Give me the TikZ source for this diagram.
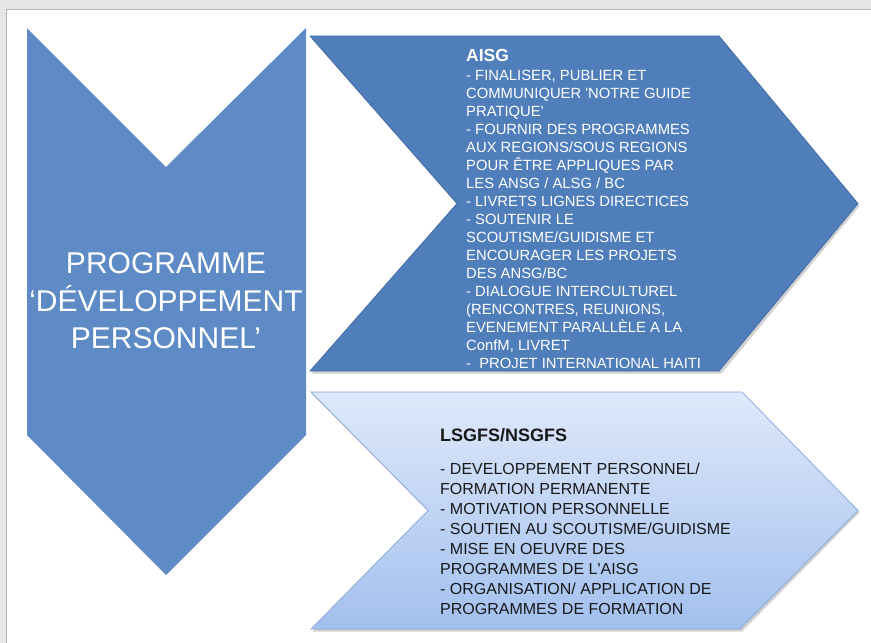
\documentclass[tikz,border=0pt]{standalone}
\usepackage{fontspec}
\newfontfamily\lib{Liberation Sans}
\definecolor{bggray}{HTML}{E6E6E6}
\definecolor{framegray}{HTML}{B4B4B4}
\definecolor{progblue}{HTML}{5E8BC6}
\definecolor{aisgblue}{HTML}{4F7EBB}
\definecolor{aisgedge}{HTML}{3E69A3}
\definecolor{lsgtop}{HTML}{DFE9FB}
\definecolor{lsgbot}{HTML}{A2C0EE}
\definecolor{lsgedge}{HTML}{86A6D8}
\tikzset{
  txt/.style={inner sep=0pt, font=\lib},
  bigtxt/.style={txt, text=white, align=center, font=\lib\fontsize{30}{37.5}\selectfont},
  aisghead/.style={txt, text=white, font=\lib\bfseries\fontsize{17.5}{21}\selectfont},
  aisgbody/.style={txt, text=white, align=left, font=\lib\fontsize{14.8}{18}\selectfont},
  lsghead/.style={txt, text=black!90, font=\lib\bfseries\fontsize{18}{21}\selectfont},
  lsgbody/.style={txt, text=black!90, align=left, font=\lib\fontsize{16}{20}\selectfont},
  shadowfill/.style={fill=black, opacity=0.18}
}
\begin{document}
\begin{tikzpicture}[x=1pt,y=-1pt]
\useasboundingbox (0,0) rectangle (871,643);
% page background and frame
\fill[bggray] (0,0) rectangle (871,643);
\fill[white] (6,9) rectangle (871,643);
\draw[framegray, line width=0.8pt] (6,643) -- (6,9) -- (871,9);

% left down-pointing chevron
\fill[progblue] (27,28) -- (166,167) -- (306,28) -- (306,435) -- (166,575) -- (27,435) -- cycle;

% AISG chevron
\fill[shadowfill] (311.5,38.5) -- (721.5,38.5) -- (859.5,206) -- (721.5,373.5) -- (311.5,373.5) -- (458.5,206) -- cycle;
\filldraw[fill=aisgblue, draw=aisgedge, line width=0.7pt]
  (310,36) -- (719,36) -- (858,203.5) -- (719,371) -- (310,371) -- (457,203.5) -- cycle;

% LSGFS chevron
\fill[shadowfill] (312.5,394.5) -- (743.5,394.5) -- (859.5,512.5) -- (742,631.5) -- (312.5,631.5) -- (429.5,512.5) -- cycle;
\shade[top color=lsgtop, bottom color=lsgbot]
  (311,392) -- (742,392) -- (858,510.5) -- (740,629) -- (311,629) -- (428,510.5) -- cycle;
\draw[lsgedge, line width=0.7pt]
  (311,392) -- (742,392) -- (858,510.5) -- (740,629) -- (311,629) -- (428,510.5) -- cycle;

% texts
\node[bigtxt, anchor=north] (prog) at (166,252.5) {PROGRAMME\\‘DÉVELOPPEMENT\\PERSONNEL’};

\node[aisghead, anchor=base west] (aisgh) at (466,61) {AISG};
\node[aisgbody, anchor=north west] (aisgb) at (466,70) {%
- FINALISER, PUBLIER ET\\
COMMUNIQUER 'NOTRE GUIDE\\
PRATIQUE'\\
- FOURNIR DES PROGRAMMES\\
AUX REGIONS/SOUS REGIONS\\
POUR ÊTRE APPLIQUES PAR\\
LES ANSG / ALSG / BC\\
- LIVRETS LIGNES DIRECTICES\\
- SOUTENIR LE\\
SCOUTISME/GUIDISME ET\\
ENCOURAGER LES PROJETS\\
DES ANSG/BC\\
- DIALOGUE INTERCULTUREL\\
(RENCONTRES, REUNIONS,\\
EVENEMENT PARALLÈLE A LA\\
ConfM, LIVRET\\
-\ \ PROJET INTERNATIONAL HAITI};

\node[lsghead, anchor=base west] (lsgh) at (440,441.5) {LSGFS/NSGFS};
\node[lsgbody, anchor=north west] (lsgb) at (440,462.3) {%
- DEVELOPPEMENT PERSONNEL/\\
FORMATION PERMANENTE\\
- MOTIVATION PERSONNELLE\\
- SOUTIEN AU SCOUTISME/GUIDISME\\
- MISE EN OEUVRE DES\\
PROGRAMMES DE L'AISG\\
- ORGANISATION/ APPLICATION DE\\
PROGRAMMES DE FORMATION};
\end{tikzpicture}
\end{document}
